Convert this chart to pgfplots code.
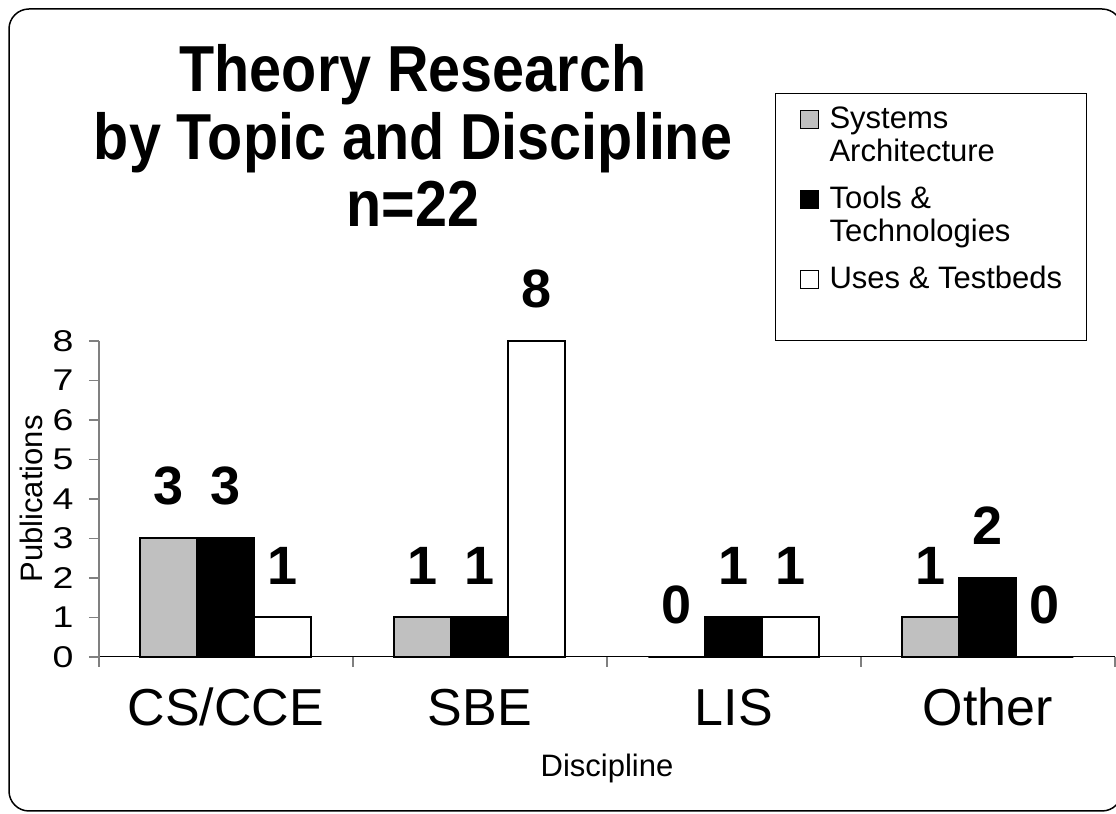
\documentclass[border=0pt]{standalone}
\usepackage{fontspec}
\setmainfont{Liberation Sans}
\newfontfamily\titlefont[FakeStretch=0.885]{Liberation Sans}
\newfontfamily\tickfont[FakeStretch=1.25]{Liberation Sans}
\usepackage{pgfplots}
\pgfplotsset{compat=1.18}
\definecolor{barsilver}{RGB}{192,192,192}
\definecolor{axgray}{RGB}{128,128,128}
\pgfplotsset{sqlegend/.style={legend image code/.code={\draw[##1, line width=0.5pt] (0pt,0pt) rectangle (9pt,9pt);}}}
% legend line with strut: #1 text, #2 depth
\newcommand{\ls}[2]{\rule[-#2]{0pt}{\dimexpr12pt+#2\relax}#1}
\begin{document}
\begin{tikzpicture}[x=0.5pt,y=0.5pt]
\useasboundingbox (0,0) rectangle (1116,814);
\draw[line width=0.75pt, rounded corners=10pt] (9,3) rectangle (1122,805);
\node[font=\titlefont\bfseries\fontsize{32.5}{38}\selectfont, anchor=base] at (413,722) {Theory Research};
\node[font=\titlefont\bfseries\fontsize{32.5}{38}\selectfont, anchor=base] at (413,654) {by Topic and Discipline};
\node[font=\titlefont\bfseries\fontsize{32.5}{38}\selectfont, anchor=base] at (413,587) {n=22};
\begin{axis}[
  at={(49.5pt,78.5pt)}, anchor=south west,
  scale only axis, width=508pt, height=158pt,
  xmin=-0.5, xmax=3.5, ymin=0, ymax=8,
  ybar=0pt, bar width=28.5pt,
  axis x line*=bottom, axis y line*=left,
  x axis line style={black, line width=0.5pt},
  y axis line style={axgray, line width=0.6pt},
  xtick={-0.5,0.5,1.5,2.5,3.5}, x tick label as interval,
  xticklabels={CS/CCE,SBE,LIS,Other},
  ytick={0,1,2,3,4,5,6,7,8},
  tick align=outside, major tick length=5pt,
  tick style={axgray, line width=0.6pt},
  xticklabel style={font=\fontsize{26}{31}\selectfont, anchor=base, yshift=-29.5pt},
  yticklabel style={font=\tickfont\fontsize{15}{18}\selectfont, anchor=east, inner sep=0pt, xshift=-7.5pt},
  ylabel={Publications},
  ylabel style={font=\fontsize{15.5}{18}\selectfont, at={(axis description cs:-0.067,0.5)}, anchor=center},
  xlabel={Discipline},
  xlabel style={font=\fontsize{15.5}{18}\selectfont, at={(axis description cs:0.5,-0.377)}, anchor=base},
  clip=false,
  nodes near coords,
  every node near coord/.append style={font=\fontsize{27}{32}\selectfont\bfseries, anchor=south, inner sep=0pt, yshift=16pt},
  /pgf/number format/assume math mode=true,
  legend style={at={(0.6654,1.785)}, anchor=north west, draw=black, line width=0.5pt,
    font=\fontsize{15.5}{17}\selectfont, cells={anchor=base west},
    nodes={inner sep=0pt, text depth=},
    inner xsep=12pt, inner ysep=5.5pt, row sep=0pt, column sep=5.5pt},
]
\addplot[fill=barsilver, draw=black, line width=1pt, sqlegend] coordinates {(0,3) (1,1) (2,0) (3,1)};
\addlegendentry{\ls{Systems}{4.5pt}}
\addlegendimage{empty legend}
\addlegendentry{\ls{Architecture}{11.5pt}}
\addplot[fill=black, draw=black, line width=1pt, sqlegend] coordinates {(0,3) (1,1) (2,1) (3,2)};
\addlegendentry{\ls{Tools \&}{4.5pt}}
\addlegendimage{empty legend}
\addlegendentry{\ls{Technologies}{11.5pt}}
\addplot[fill=white, draw=black, line width=1pt, sqlegend] coordinates {(0,1) (1,8) (2,1) (3,0)};
\addlegendentry{\ls{Uses \& Testbeds}{20.5pt}}
\end{axis}
\end{tikzpicture}
\end{document}
